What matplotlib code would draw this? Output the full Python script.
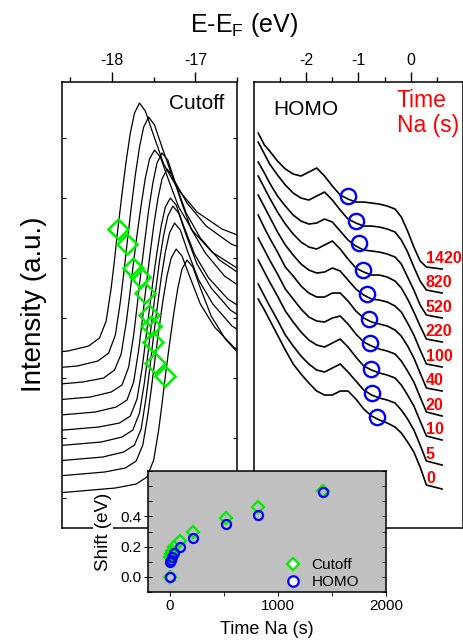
import numpy as np
import matplotlib
matplotlib.use("Agg")
from matplotlib import pyplot as plt
from matplotlib.lines import Line2D

plt.rcParams["font.family"] = ["Liberation Sans", "DejaVu Sans"]
plt.rcParams["mathtext.fontset"] = "custom"
plt.rcParams["mathtext.rm"] = "Liberation Sans"
plt.rcParams["mathtext.it"] = "Liberation Sans:italic"
plt.rcParams["axes.unicode_minus"] = False
plt.rcParams["axes.linewidth"] = 1.1

GREEN = "#00ee00"
BLUE = "#0000ff"
RED = "#ff0000"

# Na deposition time (s), bottom spectrum first
times = [0, 5, 10, 20, 40, 100, 220, 520, 820, 1420]
time_labels = ["0", "5", "10", "20", "40", "100", "220", "520", "820", "1420"]

# energy shifts (eV) of the cutoff and of the HOMO onset
shift_cutoff = [0.0, 0.13, 0.15, 0.17, 0.20, 0.24, 0.30, 0.39, 0.46, 0.57]
shift_homo = [0.0, 0.10, 0.11, 0.13, 0.16, 0.20, 0.26, 0.35, 0.41, 0.56]

# positions at t = 0 (eV)
cutoff_e0 = -17.36
homo_e0 = -0.646

# cutoff spectra: energy relative to the cutoff edge (eV), intensity (a.u.)
cutoff_rel = [-1.30, -0.60, -0.35, -0.22, -0.14, -0.08, -0.04, 0.00, 0.05, 0.10,
              0.15, 0.20, 0.26, 0.33, 0.42, 0.55, 0.72, 0.95, 1.25, 1.65]
cut_0 = [35, 40, 44, 51, 68, 98, 124, 152, 184, 214, 240, 259, 268, 261, 240, 212, 189, 168, 152, 140]
cut_5 = [51, 56, 60, 67, 83, 113, 138, 165, 197, 227, 252, 270, 279, 272, 252, 224, 201, 181, 165, 154]
cut_10 = [66, 71, 76, 83, 99, 131, 157, 186, 219, 250, 276, 295, 305, 298, 276, 248, 224, 202, 186, 174]
cut_20 = [81, 86, 91, 98, 115, 146, 173, 202, 235, 267, 293, 312, 322, 315, 293, 264, 240, 218, 202, 189]
cut_40 = [96, 101, 105, 112, 129, 159, 185, 213, 246, 276, 302, 321, 330, 323, 302, 274, 250, 229, 213, 201]
cut_100 = [111, 116, 121, 128, 146, 178, 205, 235, 270, 302, 329, 349, 359, 352, 329, 299, 275, 252, 235, 223]
cut_220 = [126, 131, 136, 143, 161, 193, 221, 251, 285, 318, 345, 365, 375, 368, 345, 315, 290, 268, 251, 238]
cut_520 = [141, 146, 150, 158, 174, 205, 231, 260, 293, 323, 350, 369, 378, 371, 350, 321, 297, 276, 260, 248]
cut_820 = [157, 162, 167, 175, 193, 226, 254, 284, 320, 353, 381, 401, 411, 403, 381, 350, 325, 302, 284, 271]
cut_1420 = [172, 177, 182, 190, 207, 240, 268, 299, 334, 367, 395, 415, 425, 417, 395, 364, 339, 316, 299, 286]
cutoff_spectra = [cut_0, cut_5, cut_10, cut_20, cut_40, cut_100, cut_220, cut_520, cut_820, cut_1420]

# HOMO spectra: E-EF (eV), intensity above each baseline (a.u.)
homo_energy = [-2.92, -2.80, -2.70, -2.55, -2.40, -2.25, -2.10, -1.95, -1.80, -1.65, -1.50,
               -1.35, -1.20, -1.05, -0.90, -0.75, -0.60, -0.45, -0.30, -0.18, -0.06, 0.06,
               0.18, 0.30, 0.60]
homo_0 = [190, 179, 169, 154, 139, 125, 115, 106, 98, 94, 94, 98, 98, 90, 80, 73, 69, 66, 62, 56, 47, 37, 22, 4, 0]
homo_5 = [181, 169, 159, 145, 130, 119, 109, 101, 95, 93, 97, 101, 93, 84, 75, 70, 67, 65, 62, 55, 46, 35, 20, 4, 0]
homo_10 = [180, 168, 158, 144, 129, 118, 108, 100, 95, 93, 97, 101, 93, 83, 74, 70, 67, 65, 62, 55, 45, 34, 19, 4, 0]
homo_20 = [178, 166, 156, 142, 127, 117, 107, 99, 95, 94, 98, 100, 92, 82, 74, 70, 67, 65, 62, 55, 45, 34, 19, 4, 0]
homo_40 = [176, 163, 153, 139, 124, 115, 105, 98, 94, 94, 98, 98, 90, 80, 73, 69, 67, 65, 61, 55, 45, 33, 18, 3, 0]
homo_100 = [172, 160, 150, 135, 122, 112, 103, 97, 94, 95, 99, 96, 87, 78, 72, 68, 67, 65, 61, 55, 44, 32, 17, 3, 0]
homo_220 = [166, 154, 144, 130, 118, 108, 100, 95, 93, 97, 101, 93, 83, 74, 70, 67, 67, 65, 61, 54, 43, 30, 16, 3, 0]
homo_520 = [156, 145, 135, 122, 112, 103, 97, 94, 95, 99, 96, 87, 78, 72, 68, 67, 66, 64, 61, 54, 41, 28, 13, 3, 0]
homo_820 = [151, 139, 129, 118, 108, 100, 95, 93, 97, 101, 93, 83, 74, 70, 67, 67, 66, 64, 61, 53, 41, 26, 12, 3, 0]
homo_1420 = [136, 124, 118, 108, 100, 95, 93, 97, 101, 93, 83, 74, 70, 67, 67, 66, 65, 63, 60, 52, 38, 22, 8, 2, 0]
homo_spectra = [homo_0, homo_5, homo_10, homo_20, homo_40, homo_100, homo_220, homo_520, homo_820, homo_1420]
homo_baseline = [39, 63, 88, 112, 137, 161, 186, 210, 235, 259]
homo_marker_int = [111, 135, 159, 185, 209, 234, 258, 285, 307, 332]


fig = plt.figure(figsize=(4.64, 6.44), dpi=100)
ax_c = fig.add_axes([0.1336, 0.1801, 0.3772, 0.6925])
ax_h = fig.add_axes([0.5474, 0.1801, 0.4504, 0.6925])
ax_in = fig.add_axes([0.3190, 0.0807, 0.5129, 0.1879])

# --- cutoff panel
rel = np.array(cutoff_rel)
edge_e = cutoff_e0 - np.array(shift_cutoff)
i_edge = cutoff_rel.index(0.0)
for k, spec in enumerate(cutoff_spectra):
    ax_c.plot(edge_e[k] + rel, spec, color="black", lw=0.9)
ax_c.plot(edge_e, [s[i_edge] for s in cutoff_spectra], ls="none", marker="D", ms=10,
          mfc="none", mec=GREEN, mew=1.8)
ax_c.set_xlim(-18.6, -16.5)
ax_c.set_ylim(0, 446)
ax_c.set_xticks([-18, -17])
ax_c.set_xticks([-18.5, -17.5, -16.5], minor=True)
ax_c.set_yticks(np.arange(30, 446, 60))
ax_c.text(0.93, 0.953, "Cutoff", transform=ax_c.transAxes, ha="right", va="center", fontsize=15)

# --- HOMO panel
for k, spec in enumerate(homo_spectra):
    ax_h.plot(homo_energy, homo_baseline[k] + np.array(spec), color="black", lw=1.2)
    ax_h.text(0.29, homo_baseline[k] + 11, time_labels[k], color=RED, fontsize=11.5,
              fontweight="bold", ha="left", va="center", clip_on=False)
ax_h.plot(homo_e0 - np.array(shift_homo), homo_marker_int, ls="none", marker="o", ms=11,
          mfc="none", mec=BLUE, mew=1.7)
ax_h.set_xlim(-3, 1)
ax_h.set_ylim(0, 446)
ax_h.set_xticks([-2, -1, 0])
ax_h.set_xticks([-2.5, -1.5, -0.5, 0.5], minor=True)
ax_h.set_yticks([])
ax_h.text(0.091, 0.939, "HOMO", transform=ax_h.transAxes, ha="left", va="center", fontsize=15)
ax_h.text(0.684, 0.985, "Time\nNa (s)", transform=ax_h.transAxes, ha="left", va="top",
          fontsize=16.5, color=RED, linespacing=1.15)

for ax in (ax_c, ax_h):
    ax.xaxis.tick_top()
    ax.tick_params(axis="x", which="major", direction="out", length=7, width=1.0,
                   labelsize=11.5, pad=3)
    ax.tick_params(axis="x", which="minor", direction="out", length=3.5, width=1.0)
    ax.tick_params(axis="y", which="both", direction="in", length=3, left=True, right=True,
                   labelleft=False)

# --- inset: shift vs time
ax_in.set_facecolor("#c0c0c0")
ax_in.plot(times, shift_cutoff, ls="none", marker="D", ms=6, mfc="none", mec=GREEN, mew=1.6)
ax_in.plot(times, shift_homo, ls="none", marker="o", ms=6.5, mfc="none", mec=BLUE, mew=1.6)
ax_in.set_xlim(-200, 2000)
ax_in.set_ylim(-0.1, 0.7)
ax_in.set_xticks([0, 1000, 2000])
ax_in.set_xticks([500, 1500], minor=True)
ax_in.set_yticks([0.0, 0.2, 0.4])
ax_in.set_yticklabels(["0.0", "0.2", "0.4"])
ax_in.set_yticks(np.arange(-0.1, 0.75, 0.1), minor=True)
ax_in.yaxis.remove_overlapping_locs = False
ax_in.tick_params(axis="both", which="major", direction="out", length=3, labelsize=11, pad=2)
ax_in.tick_params(axis="x", which="minor", direction="out", length=3)
ax_in.tick_params(axis="y", which="minor", direction="in", length=3, left=True, right=True)
ax_in.set_xlabel("Time Na (s)", fontsize=13, labelpad=6)
ax_in.set_ylabel("Shift (eV)", fontsize=13.5, labelpad=6,
                 bbox=dict(facecolor="white", edgecolor="none", pad=1.0))
handles = [Line2D([], [], ls="none", marker="D", ms=6.5, mfc="white", mec=GREEN, mew=1.6),
           Line2D([], [], ls="none", marker="o", ms=7.5, mfc="white", mec=BLUE, mew=1.6)]
ax_in.legend(handles, ["Cutoff", "HOMO"], loc="lower right", bbox_to_anchor=(0.9, 0.0),
             frameon=False, fontsize=11, handlelength=1.0, handletextpad=0.7,
             labelspacing=0.2, borderpad=0.2, borderaxespad=0)

fig.text(244 / 464, 1 - 32 / 644, r"E-E$_\mathrm{F}$ (eV)", fontsize=18, ha="center", va="baseline")
fig.text(34 / 464, 1 - 304 / 644, "Intensity (a.u.)", fontsize=20, rotation=90,
         ha="center", va="center")

fig.savefig("out.png", dpi=100)
